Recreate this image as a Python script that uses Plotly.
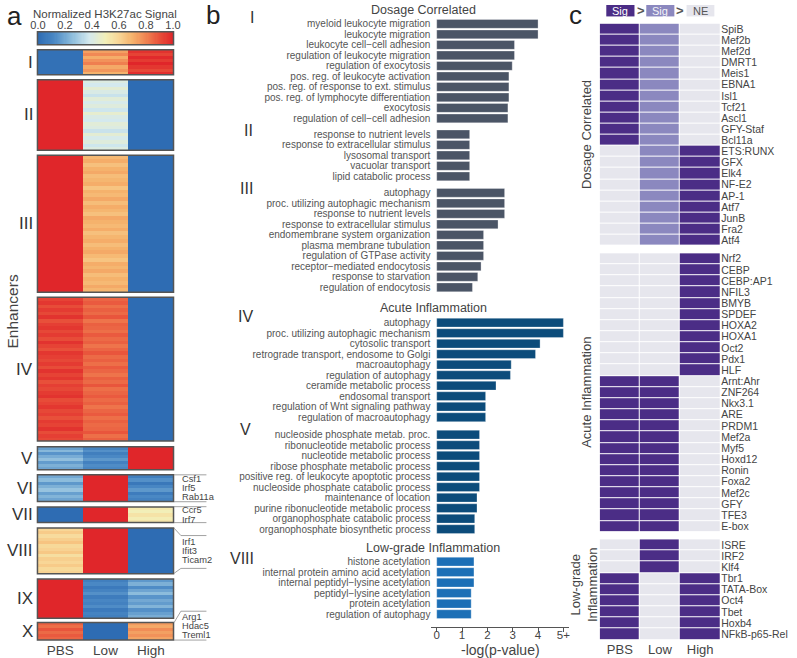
import numpy as np
import plotly.graph_objects as go

W, H = 797, 658
FONT = "Liberation Sans, Arial, Helvetica, sans-serif"


def fx(px):
    return px / W


def fy(py):
    return 1 - py / H


# ---------------- Panel a data (normalized H3K27ac signal per enhancer row) ----------------
conditions = ["PBS", "Low", "High"]
cluster_names = ["I", "II", "III", "IV", "V", "VI", "VII", "VIII", "IX", "X"]

a_I = ([0.02, 0.02, 0.02, 0.02, 0.02, 0.02, 0.02, 0.02],
       [0.74, 0.79, 0.71, 0.77, 0.81, 0.72, 0.76, 0.70],
       [0.97, 0.93, 0.99, 0.95, 1.00, 0.96, 0.92, 0.98])
a_II = ([1.0] * 20,
        [0.41, 0.38, 0.44, 0.40, 0.36, 0.43, 0.39, 0.42, 0.37, 0.45,
         0.40, 0.38, 0.43, 0.41, 0.36, 0.44, 0.39, 0.42, 0.37, 0.41],
        [0.0] * 20)
a_III = ([1.0] * 36,
         [0.68, 0.71, 0.66, 0.70, 0.72, 0.67, 0.69, 0.71, 0.65, 0.70, 0.68, 0.72,
          0.67, 0.71, 0.69, 0.66, 0.72, 0.70, 0.68, 0.71, 0.66, 0.69, 0.71, 0.67,
          0.70, 0.72, 0.68, 0.65, 0.71, 0.69, 0.72, 0.67, 0.70, 0.68, 0.72, 0.69],
         [0.0] * 36)
a_IV = ([0.93, 0.96, 0.91, 0.95, 0.92, 0.97, 0.90, 0.94, 0.96, 0.92,
         0.95, 0.91, 0.97, 0.93, 0.90, 0.96, 0.94, 0.92, 0.95, 0.91,
         0.97, 0.93, 0.96, 0.90, 0.94, 0.92, 0.95, 0.97, 0.91, 0.93,
         0.96, 0.92, 0.94, 0.90, 0.95, 0.93, 0.97, 0.91, 0.94, 0.92],
        [0.86, 0.88, 0.84, 0.87, 0.85, 0.89, 0.83, 0.87, 0.86, 0.84,
         0.88, 0.85, 0.87, 0.83, 0.86, 0.89, 0.85, 0.87, 0.84, 0.88,
         0.86, 0.83, 0.87, 0.85, 0.89, 0.84, 0.86, 0.88, 0.85, 0.87,
         0.83, 0.86, 0.88, 0.84, 0.87, 0.85, 0.86, 0.89, 0.84, 0.87],
        [0.0] * 40)
a_V = ([0.18, 0.24, 0.15, 0.21, 0.26, 0.17, 0.22, 0.19],
       [0.10, 0.14, 0.08, 0.12, 0.16, 0.09, 0.13, 0.11],
       [1.0] * 8)
a_VI = ([0.20, 0.25, 0.16, 0.22, 0.27, 0.18, 0.23, 0.19],
        [1.0] * 8,
        [0.08, 0.14, 0.05, 0.11, 0.16, 0.07, 0.12, 0.09])
a_VII = ([0.0] * 5,
         [1.0] * 5,
         [0.53, 0.50, 0.55, 0.51, 0.54])
a_VIII = ([0.60, 0.63, 0.58, 0.62, 0.65, 0.59, 0.61, 0.64, 0.57, 0.62, 0.60, 0.63, 0.59, 0.61],
          [1.0] * 14,
          [0.0] * 14)
a_IX = ([1.0] * 12,
        [0.08, 0.12, 0.06, 0.10, 0.14, 0.07, 0.11, 0.09, 0.13, 0.06, 0.10, 0.08],
        [0.16, 0.22, 0.13, 0.19, 0.25, 0.15, 0.20, 0.17, 0.23, 0.14, 0.18, 0.21])
a_X = ([0.87, 0.84, 0.89, 0.85, 0.88, 0.86],
       [0.0] * 6,
       [0.75, 0.72, 0.78, 0.74, 0.77, 0.73])
a_clusters = [a_I, a_II, a_III, a_IV, a_V, a_VI, a_VII, a_VIII, a_IX, a_X]

colorbar_ticks = [0.0, 0.2, 0.4, 0.6, 0.8, 1.0]
colorbar_ticktext = ["0.0", "0.2", "0.4", "0.6", "0.8", "1.0"]

gene_groups = {
    "VI": ["Csf1", "Irf5", "Rab11a"],
    "VII": ["Ccr5", "Irf7"],
    "VIII": ["Irf1", "Ifit3", "Ticam2"],
    "X": ["Arg1", "Hdac5", "Treml1"],
}

# ---------------- Panel b data (-log p-value) ----------------
b_I_terms = ["myeloid leukocyte migration", "leukocyte migration", "leukocyte cell\u2212cell adhesion",
             "regulation of leukocyte migration", "regulation of exocytosis",
             "pos. reg. of leukocyte activation", "pos. reg. of response to ext. stimulus",
             "pos. reg. of lymphocyte differentiation", "exocytosis", "regulation of cell\u2212cell adhesion"]
b_I_vals = [4.0, 4.0, 3.07, 3.07, 2.98, 2.85, 2.85, 2.85, 2.81, 2.81]
b_II_terms = ["response to nutrient levels", "response to extracellular stimulus", "lysosomal transport",
              "vacuolar transport", "lipid catabolic process"]
b_II_vals = [1.30, 1.30, 1.30, 1.30, 1.30]
b_III_terms = ["autophagy", "proc. utilizing autophagic mechanism", "response to nutrient levels",
               "response to extracellular stimulus", "endomembrane system organization",
               "plasma membrane tubulation", "regulation of GTPase activity",
               "receptor\u2212mediated endocytosis", "response to starvation", "regulation of endocytosis"]
b_III_vals = [2.68, 2.68, 2.68, 2.42, 1.85, 1.85, 1.85, 1.75, 1.62, 1.41]
b_IV_terms = ["autophagy", "proc. utilizing autophagic mechanism", "cytosolic transport",
              "retrograde transport, endosome to Golgi", "macroautophagy", "regulation of autophagy",
              "ceramide metabolic process", "endosomal transport", "regulation of Wnt signaling pathway",
              "regulation of macroautophagy"]
b_IV_vals = [5.0, 5.0, 4.08, 3.90, 2.94, 2.91, 2.34, 1.93, 1.93, 1.93]
b_V_terms = ["nucleoside phosphate metab. proc.", "ribonucleotide metabolic process",
             "nucleotide metabolic process", "ribose phosphate metabolic process",
             "positive reg. of leukocyte apoptotic process", "nucleoside phosphate catabolic process",
             "maintenance of location", "purine ribonucleotide metabolic process",
             "organophosphate catabolic process", "organophosphate biosynthetic process"]
b_V_vals = [1.69, 1.69, 1.69, 1.69, 1.69, 1.69, 1.59, 1.59, 1.50, 1.50]
b_VIII_terms = ["histone acetylation", "internal protein amino acid acetylation",
                "internal peptidyl\u2212lysine acetylation", "peptidyl\u2212lysine acetylation",
                "protein acetylation", "regulation of autophagy"]
b_VIII_vals = [1.47, 1.47, 1.47, 1.36, 1.36, 1.36]
b_xticks = [0, 1, 2, 3, 4, 5]
b_xticktext = ["0", "1", "2", "3", "4", "5+"]

# ---------------- Panel c data (0 = NE, 1 = Sig, 2 = Sig strongest) ----------------
c_dosage_tf = ["SpiB", "Mef2b", "Mef2d", "DMRT1", "Meis1", "EBNA1", "Isl1", "Tcf21", "Ascl1", "GFY-Staf",
               "Bcl11a", "ETS:RUNX", "GFX", "Elk4", "NF-E2", "AP-1", "Atf7", "JunB", "Fra2", "Atf4"]
c_dosage_pbs = [2, 2, 2, 2, 2, 2, 2, 2, 2, 2, 2, 0, 0, 0, 0, 0, 0, 0, 0, 0]
c_dosage_low = [1, 1, 1, 1, 1, 1, 1, 1, 1, 1, 1, 1, 1, 1, 1, 1, 1, 1, 1, 1]
c_dosage_high = [0, 0, 0, 0, 0, 0, 0, 0, 0, 0, 0, 2, 2, 2, 2, 2, 2, 2, 2, 2]
c_acute_tf = ["Nrf2", "CEBP", "CEBP:AP1", "NFIL3", "BMYB", "SPDEF", "HOXA2", "HOXA1", "Oct2", "Pdx1", "HLF",
              "Arnt:Ahr", "ZNF264", "Nkx3.1", "ARE", "PRDM1", "Mef2a", "Myf5", "Hoxd12", "Ronin", "Foxa2",
              "Mef2c", "GFY", "TFE3", "E-box"]
c_acute_pbs = [0, 0, 0, 0, 0, 0, 0, 0, 0, 0, 0, 2, 2, 2, 2, 2, 2, 2, 2, 2, 2, 2, 2, 2, 2]
c_acute_low = [0, 0, 0, 0, 0, 0, 0, 0, 0, 0, 0, 2, 2, 2, 2, 2, 2, 2, 2, 2, 2, 2, 2, 2, 2]
c_acute_high = [2, 2, 2, 2, 2, 2, 2, 2, 2, 2, 2, 0, 0, 0, 0, 0, 0, 0, 0, 0, 0, 0, 0, 0, 0]
c_low_tf = ["ISRE", "IRF2", "Klf4", "Tbr1", "TATA-Box", "Oct4", "Tbet", "Hoxb4", "NFkB-p65-Rel"]
c_low_pbs = [0, 0, 0, 2, 2, 2, 2, 2, 2]
c_low_low = [2, 2, 2, 0, 0, 0, 0, 0, 0]
c_low_high = [0, 0, 0, 2, 2, 2, 2, 2, 2]

# ---------------- styling ----------------
a_scale = [[0, '#2e6cb3'], [0.12, '#4a88c4'], [0.25, '#8cbcdc'], [0.38, '#d4e9ee'],
           [0.5, '#f2efb8'], [0.6, '#f8d696'], [0.7, '#f5b26c'], [0.8, '#f08452'],
           [0.9, '#e8503a'], [1, '#e0262a']]
C_NE, C_MID, C_DARK = '#e6e6ed', '#8b88bf', '#4b2d86'
c_scale = [[0, C_NE], [0.333, C_NE], [0.333, C_MID], [0.667, C_MID], [0.667, C_DARK], [1, C_DARK]]
BAR_COLORS = ['#4b5566', '#0c4c7b', '#1c6fb6']
TXT = '#444444'

fig = go.Figure()
shapes = []
annotations = []


def ann(text, x, y, size, color=TXT, xanchor='center', yanchor='middle', angle=0):
    annotations.append(dict(text=text, x=fx(x), y=fy(y), xref='paper', yref='paper',
                            xanchor=xanchor, yanchor=yanchor, showarrow=False, textangle=angle,
                            font=dict(size=size, color=color, family=FONT)))


def line(pts, color='#8a8a8a', width=0.8):
    path = "M " + " L ".join(f"{fx(px)} {fy(py)}" for px, py in pts)
    shapes.append(dict(type='path', path=path, xref='paper', yref='paper',
                       line=dict(color=color, width=width)))


def box(x0, y0, x1, y1, color='#555555', width=1.5, fill=None):
    shapes.append(dict(type='rect', xref='paper', yref='paper', x0=fx(x0), x1=fx(x1),
                       y0=fy(y1), y1=fy(y0), line=dict(color=color, width=width),
                       fillcolor=fill if fill else 'rgba(0,0,0,0)', layer='above'))


layout_axes = {}

# ---------------- Panel a ----------------
A_X0, A_X1 = 31, 169.5
a_boxes = [(49, 74), (79, 150), (155, 292.7), (297.7, 442), (447.7, 471),
           (476, 502.7), (508.3, 524), (529.3, 575.3), (580.7, 620), (624.3, 642)]
a_label_y = [62, 114.5, 224, 370, 459.5, 489.5, 516, 552, 600.5, 633]
for i, (cl, (top, bot)) in enumerate(zip(a_clusters, a_boxes)):
    z = np.array(cl).T.tolist()
    n = len(z)
    yname = 'y' if i == 0 else f'y{i + 1}'
    fig.add_trace(go.Heatmap(z=z, x=conditions, y=list(range(n)), colorscale=a_scale,
                             zmin=0, zmax=1, showscale=False, xaxis='x', yaxis=yname,
                             hoverinfo='skip'))
    key = 'yaxis' if i == 0 else f'yaxis{i + 1}'
    layout_axes[key] = dict(domain=[fy(bot), fy(top)], anchor='x', range=[n - 0.5, -0.5],
                            showticklabels=False, showgrid=False, zeroline=False, ticks='')
    box(A_X0, top, A_X1, bot)
    ann(cluster_names[i], 28, a_label_y[i], 17, color='#333', xanchor='right')

layout_axes['xaxis'] = dict(domain=[fx(A_X0), fx(A_X1)], anchor='y10', range=[-0.5, 2.5],
                            showgrid=False, zeroline=False, ticks='', showline=False,
                            tickfont=dict(size=13.5, color=TXT, family=FONT))

# colour scale bar
ramp = np.linspace(0, 1, 121).tolist()
fig.add_trace(go.Heatmap(z=[ramp], x=ramp, y=[0], colorscale=a_scale, zmin=0, zmax=1,
                         showscale=False, xaxis='x2', yaxis='y11', hoverinfo='skip'))
layout_axes['xaxis2'] = dict(domain=[fx(A_X0), fx(A_X1)], anchor='y11', side='top',
                             range=[-0.004, 1.004], tickvals=colorbar_ticks, ticktext=colorbar_ticktext,
                             showgrid=False, zeroline=False, ticks='',
                             tickfont=dict(size=11, color=TXT, family=FONT))
layout_axes['yaxis11'] = dict(domain=[fy(44), fy(31)], anchor='x2', range=[-0.5, 0.5],
                              showticklabels=False, showgrid=False, zeroline=False)
box(A_X0, 31, A_X1, 44)
ann("Normalized H3K27ac Signal", 100, 13.5, 11.5)
ann("Enhancers", 6, 312, 15.5, angle=-90)
ann("a", 8, 15, 26, color='#222')

# gene call-outs
gene_y = {"VI": [480.5, 489.5, 498.5], "VII": [511.5, 521.5], "VIII": [543, 552.5, 562],
          "X": [618.5, 627.5, 636.5]}
for g, names in gene_groups.items():
    for nm, yy in zip(names, gene_y[g]):
        ann(nm, 176, yy, 9.3, xanchor='left')
line([(170, 476), (203, 476)])
line([(170, 503), (203, 503)])
line([(170, 508), (203, 508)])
line([(170, 524), (203, 524)])
line([(170, 529.5), (177, 537), (203, 537)])
line([(170, 575), (177, 570), (203, 570)])
line([(170, 624.5), (177, 613), (203, 613)])
line([(170, 642), (203, 642)])

# ---------------- Panel b ----------------
b_groups = [("I", b_I_terms, b_I_vals, 0, 0.0),
            ("II", b_II_terms, b_II_vals, 0, 0.52),
            ("III", b_III_terms, b_III_vals, 0, 0.56),
            ("IV", b_IV_terms, b_IV_vals, 1, 2.36),
            ("V", b_V_terms, b_V_vals, 1, 0.66),
            ("VIII", b_VIII_terms, b_VIII_vals, 2, 2.09)]
pos = -1.0
tickvals, ticktext = [], []
series = {0: ([], []), 1: ([], []), 2: ([], [])}
for name, terms, vals, ci, gap in b_groups:
    pos += gap
    for t, v in zip(terms, vals):
        pos += 1
        tickvals.append(pos)
        ticktext.append(t)
        series[ci][0].append(pos)
        series[ci][1].append(v)
last = pos
for ci in (0, 1, 2):
    fig.add_trace(go.Bar(x=series[ci][1], y=series[ci][0], orientation='h', width=0.84,
                         marker=dict(color=BAR_COLORS[ci], line=dict(color='rgba(255,255,255,0.6)', width=0.5)),
                         xaxis='x3', yaxis='y12', hoverinfo='skip'))
UNIT = (616 - 23) / last
layout_axes['yaxis12'] = dict(domain=[fy(616 + 0.5 * UNIT), fy(23 - 0.5 * UNIT)], anchor='x3',
                              range=[last + 0.5, -0.5], tickvals=tickvals, ticktext=ticktext,
                              showgrid=False, zeroline=False, ticks='', showline=False,
                              tickfont=dict(size=10, color='#555', family=FONT))
layout_axes['xaxis3'] = dict(domain=[fx(432), fx(572)], anchor='free', position=fy(628.5),
                             range=[-0.21, 5.22], tickvals=b_xticks, ticktext=b_xticktext,
                             showline=True, linecolor='#555', linewidth=1, ticks='outside',
                             ticklen=4, tickcolor='#555', showgrid=False, zeroline=False,
                             ticklabelstandoff=-6,
                             tickfont=dict(size=11.5, color=TXT, family=FONT))
ann("-log(p-value)", 502, 651.5, 14)
ann("Dosage Correlated", 424, 9, 12.5)
ann("Acute Inflammation", 434, 308.5, 12.5)
ann("Low-grade Inflammation", 434, 550, 12.5)
for nm, xx, yy in [("I", 249, 17), ("II", 246, 130), ("III", 244, 188), ("IV", 243, 317),
                   ("V", 243, 430), ("VIII", 239, 560)]:
    ann(nm, xx, yy, 16, color='#333')
ann("b", 210, 14, 26, color='#222')

# ---------------- Panel c ----------------
C_X0, C_X1 = 603.3, 726
c_sections = [(c_dosage_tf, c_dosage_pbs, c_dosage_low, c_dosage_high, 22.7, 246, 'y13'),
              (c_acute_tf, c_acute_pbs, c_acute_low, c_acute_high, 253.3, 533.3, 'y14'),
              (c_low_tf, c_low_pbs, c_low_low, c_low_high, 540.7, 641.7, 'y15')]
for tfs, p, l, h, top, bot, yname in c_sections:
    z = np.array([p, l, h]).T.tolist()
    fig.add_trace(go.Heatmap(z=z, x=conditions, y=tfs, colorscale=c_scale, zmin=0, zmax=2,
                             showscale=False, xgap=1, ygap=1, xaxis='x4', yaxis=yname,
                             hoverinfo='skip'))
    layout_axes['yaxis' + yname[1:]] = dict(domain=[fy(bot), fy(top)], anchor='x4', side='right',
                                             autorange='reversed', showgrid=False, zeroline=False,
                                             ticks='', showline=False, tickmode='array',
                                             tickvals=tfs, ticktext=tfs,
                                             tickfont=dict(size=10.5, color=TXT, family=FONT))
layout_axes['xaxis4'] = dict(domain=[fx(C_X0), fx(C_X1)], anchor='y15', range=[-0.5, 2.5],
                             showgrid=False, zeroline=False, ticks='', showline=False,
                             tickfont=dict(size=13, color=TXT, family=FONT))
ann("Dosage Correlated", 590, 134, 13, angle=-90)
ann("Acute Inflammation", 590, 393, 13, angle=-90)
ann("Low-grade<br>Inflammation", 588, 587, 13, angle=-90)
ann("c", 579, 14, 26, color='#222')
# significance key
box(610, 4, 638.7, 15.5, color=C_DARK, width=0, fill=C_DARK)
box(650.7, 4, 679.3, 15.5, color=C_MID, width=0, fill=C_MID)
box(691.7, 4, 720, 15.5, color=C_NE, width=0, fill=C_NE)
ann("Sig", 624.3, 10, 11, color='white')
ann("Sig", 665, 10, 11, color='#f4f4f8')
ann("NE", 705.8, 10, 11, color='#555')
ann("<b>&gt;</b>", 645, 9.5, 13, color='#555')
ann("<b>&gt;</b>", 685.5, 9.5, 13, color='#555')

fig.update_layout(width=W, height=H, margin=dict(l=0, r=0, t=0, b=0),
                  paper_bgcolor='white', plot_bgcolor='white', showlegend=False,
                  font=dict(family=FONT, color=TXT), bargap=0.1,
                  shapes=shapes, annotations=annotations, **layout_axes)
fig.write_html("out.html", config={'displayModeBar': False, 'staticPlot': True},
               post_script="document.body.style.margin='0';document.body.style.overflow='hidden';")
